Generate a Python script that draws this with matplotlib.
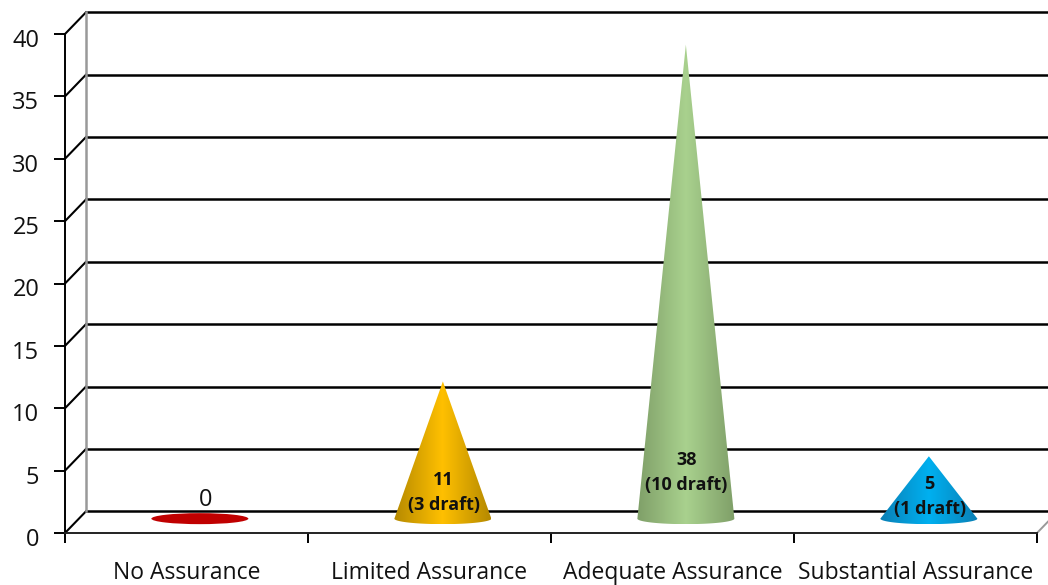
import numpy as np
import matplotlib
matplotlib.use('Agg')
import matplotlib.pyplot as plt
from matplotlib.colors import LinearSegmentedColormap
from matplotlib.patches import Polygon, Ellipse

categories = ['No Assurance', 'Limited Assurance', 'Adequate Assurance', 'Substantial Assurance']
values = [0, 11, 38, 5]
labels = ['0', '11\n(3 draft)', '38\n(10 draft)', '5\n(1 draft)']
y_ticks = [0, 5, 10, 15, 20, 25, 30, 35, 40]
edge_colors = ['#c00000', '#b58900', '#7f9f68', '#0a7fb5']
mid_colors = ['#c00000', '#ffc000', '#a9d18e', '#00b0f0']
# height of each data label above the cone base, in y units
label_lift = [1.5, 2.1, 3.68, 1.78]

W, H = 1048, 585
plt.rcParams['font.family'] = ['Open Sans', 'DejaVu Sans']

fig = plt.figure(figsize=(W / 100, H / 100), dpi=100)
# plot box of the front plane, in pixels
left, right, top, bottom = 65, 1037, 34, 533
ax = fig.add_axes([left / W, 1 - bottom / H, (right - left) / W, (bottom - top) / H])
ax.set_xlim(0, 4)
ax.set_ylim(0, 40)
ax.patch.set_visible(False)

# depth of the 3d box in data units
depth_x = 21 / 243.0
depth_y = 21.7 / 12.47
base_y = 1.15
half_w = 48.5 / 243.0
base_h = 5.5 / 12.47

for s in ('top', 'right'):
    ax.spines[s].set_visible(False)
ax.spines['left'].set_linewidth(1.4)
ax.spines['bottom'].set_linewidth(1.4)
ax.spines['bottom'].set_color('#222222')

for t in y_ticks:
    ax.plot([0, depth_x], [t, t + depth_y], color='black', lw=1.5, clip_on=False, zorder=1)
    ax.plot([depth_x, 4 + depth_x], [t + depth_y, t + depth_y], color='black', lw=1.8,
            clip_on=False, zorder=1)
ax.plot([depth_x, depth_x], [depth_y, 40 + depth_y], color='#999999', lw=1.8, clip_on=False, zorder=1)
ax.plot([4, 4 + depth_x], [0, depth_y], color='#999999', lw=1.4, clip_on=False, zorder=1)

ax.set_yticks(y_ticks)
ax.set_xticks(range(5))
ax.set_xticklabels([])
ax.set_yticklabels([])
ax.tick_params(axis='y', length=8, width=1.4)
ax.tick_params(axis='x', length=7, width=1.4)
# tick labels sit a little below their ticks
for t in y_ticks:
    ax.annotate(str(t), (0, t), xytext=(-18.5, -5), textcoords='offset points', ha='right',
                va='center', fontsize=17, color='#111111', annotation_clip=False)
for i, name in enumerate(categories):
    ax.annotate(name, (i + 0.5, 0), xytext=(0, -29), textcoords='offset points', ha='center',
                va='center', fontsize=16.5, color='#111111', annotation_clip=False)

for i, (val, txt) in enumerate(zip(values, labels)):
    cx = i + 0.5 + 0.055
    if val == 0:
        ax.add_patch(Ellipse((cx, base_y), 2 * half_w, 2 * base_h, fc=mid_colors[i], ec='none', zorder=3))
        ax.text(cx + 0.025, base_y + label_lift[i], txt, ha='center', va='center', fontsize=17,
                color='#111111', zorder=5)
        continue
    # cone outline: two slanted sides closed by the front half of the base ellipse
    th = np.linspace(np.pi, 2 * np.pi, 60)
    outline = [(cx, base_y + val)] + list(zip(cx + half_w * np.cos(th), base_y + base_h * np.sin(th)))
    patch = Polygon(outline, closed=True, fc='none', ec='none', transform=ax.transData)
    ax.add_patch(patch)
    cmap = LinearSegmentedColormap.from_list('cone', [edge_colors[i], mid_colors[i], edge_colors[i]])
    im = ax.imshow(np.linspace(0, 1, 256)[None, :], cmap=cmap, aspect='auto', zorder=3,
                   extent=[cx - half_w, cx + half_w, base_y - base_h, base_y + val],
                   interpolation='bilinear')
    im.set_clip_path(patch)
    ax.set_xlim(0, 4)
    ax.set_ylim(0, 40)
    ax.text(cx + 0.003, base_y + label_lift[i], txt, ha='center', va='center', fontsize=13,
            fontweight='bold', color='#111111', linespacing=1.5, zorder=5)

fig.savefig('out.png', dpi=100)
